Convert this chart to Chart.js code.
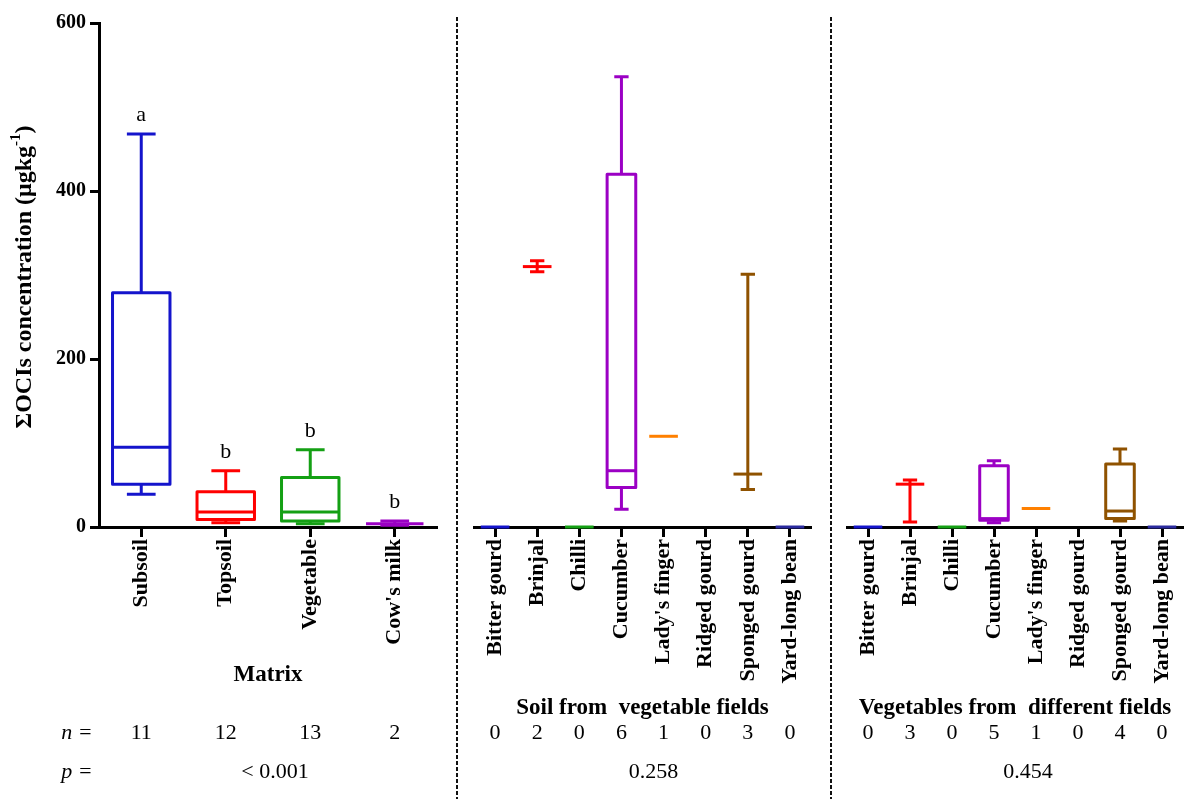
<!DOCTYPE html>
<html>
<head>
<meta charset="utf-8">
<script src="https://cdn.jsdelivr.net/npm/chart.js@4/dist/chart.umd.min.js"></script>
<style>
  html, body { margin: 0; padding: 0; background: #fff; }
  #wrap { position: relative; width: 1185px; height: 799px; overflow: hidden; background: #fff; }
  #wrap canvas { position: absolute; top: 0; }
</style>
</head>
<body>
<div id="wrap">
  <canvas id="matrixChart" width="456" height="799" style="left:0px"></canvas>
  <canvas id="soilChart" width="374" height="799" style="left:456px"></canvas>
  <canvas id="vegChart" width="355" height="799" style="left:830px"></canvas>
</div>
<script>
const SERIF = "'Liberation Serif', 'Times New Roman', serif";

// y axis
const yTicks = [0, 200, 400, 600];

// Panel 1: matrix
const matrixLabels = ['Subsoil', 'Topsoil', 'Vegetable', "Cow's milk"];
const matrixColors = ['#1414cc', '#ff0000', '#14a014', '#9b00c4'];
const matrixMin    = [39, 5, 4, 2];
const matrixQ1     = [51, 9, 7, 4];
const matrixMedian = [95, 18, 18, 4];
const matrixQ3     = [279, 42, 59, 4];
const matrixMax    = [468, 67, 92, 7];
const matrixN      = [11, 12, 13, 2];
const matrixLetters = ['a', 'b', 'b', 'b'];
const matrixP = '< 0.001';

// Panels 2 and 3 share the crop categories
const cropLabels = ['Bitter gourd', 'Brinjal', 'Chilli', 'Cucumber', "Lady's finger", 'Ridged gourd', 'Sponged gourd', 'Yard-long bean'];
const cropColors = ['#1414cc', '#ff0000', '#14a014', '#9b00c4', '#ff8000', '#000000', '#8f5200', '#2a2a9e'];

// Panel 2: soil from vegetable fields
const soilMin    = [0, 304, 0, 21, 108, null, 44.5, 0];
const soilQ1     = [0, 310, 0, 47, 108, null, 63, 0];
const soilMedian = [0, 310, 0, 67, 108, null, 63, 0];
const soilQ3     = [0, 310, 0, 420, 108, null, 63, 0];
const soilMax    = [0, 317, 0, 536, 108, null, 301, 0];
const soilN      = [0, 2, 0, 6, 1, 0, 3, 0];
const soilP = '0.258';

// Panel 3: vegetables from different fields
const vegMin    = [0, 6, 0, 5, 22, null, 7, 0];
const vegQ1     = [0, 51, 0, 8, 22, null, 10, 0];
const vegMedian = [0, 51, 0, 10, 22, null, 19, 0];
const vegQ3     = [0, 51, 0, 73, 22, null, 75, 0];
const vegMax    = [0, 56, 0, 79, 22, null, 93, 0];
const vegN      = [0, 3, 0, 5, 1, 0, 4, 0];
const vegP = '0.454';

Chart.defaults.color = '#000';
Chart.defaults.font.family = SERIF;

const X_AXIS_HEIGHT = 272;

// Box-and-whisker drawing on top of the axes
function boxPlugin(panel) {
  return {
    id: 'boxes',
    afterDatasetsDraw(chart) {
      const { ctx, scales: { x, y } } = chart;
      const step = x.getPixelForValue(1) - x.getPixelForValue(0);
      const hw = step * 0.34;
      ctx.save();
      ctx.lineWidth = 3;
      ctx.lineJoin = 'round';
      panel.labels.forEach((_, i) => {
        if (panel.median[i] == null) return;
        const c = x.getPixelForValue(i);
        const Y = v => y.getPixelForValue(v);
        ctx.strokeStyle = panel.colors[i];
        ctx.beginPath();
        if (panel.max[i] > panel.q3[i]) {
          ctx.moveTo(c, Y(panel.q3[i])); ctx.lineTo(c, Y(panel.max[i]));
          ctx.moveTo(c - hw / 2, Y(panel.max[i])); ctx.lineTo(c + hw / 2, Y(panel.max[i]));
        }
        if (panel.min[i] < panel.q1[i]) {
          ctx.moveTo(c, Y(panel.q1[i])); ctx.lineTo(c, Y(panel.min[i]));
          ctx.moveTo(c - hw / 2, Y(panel.min[i])); ctx.lineTo(c + hw / 2, Y(panel.min[i]));
        }
        ctx.stroke();
        if (panel.q3[i] > panel.q1[i]) {
          ctx.strokeRect(c - hw, Y(panel.q3[i]), 2 * hw, Y(panel.q1[i]) - Y(panel.q3[i]));
        }
        ctx.beginPath();
        ctx.moveTo(c - hw, Y(panel.median[i])); ctx.lineTo(c + hw, Y(panel.median[i]));
        ctx.stroke();
      });
      ctx.restore();
    }
  };
}

// Axis title, sample sizes, p value and group letters
function textPlugin(panel) {
  return {
    id: 'panelText',
    afterDraw(chart) {
      const { ctx, chartArea, scales: { x, y } } = chart;
      const b = chartArea.bottom;
      const mid = (chartArea.left + chartArea.right) / 2;
      ctx.save();
      ctx.fillStyle = '#000';
      ctx.textBaseline = 'middle';
      ctx.textAlign = 'center';

      ctx.font = 'bold 23px ' + SERIF;
      ctx.fillText(panel.title, mid, b + panel.titleDy);

      ctx.font = '22px ' + SERIF;
      panel.n.forEach((n, i) => ctx.fillText(String(n), x.getPixelForValue(i), b + 206));
      ctx.fillText(panel.p, mid + panel.pDx, b + 245);

      if (panel.letters) {
        ctx.font = '22px ' + SERIF;
        panel.letters.forEach((t, i) => ctx.fillText(t, x.getPixelForValue(i), y.getPixelForValue(panel.max[i]) - 19));
      }

      if (panel.rowNames) {
        ctx.font = 'italic 22px ' + SERIF;
        ctx.fillText('n =', 77, b + 206);
        ctx.fillText('p =', 77, b + 245);

        // rotated y-axis title with superscript
        const cy = (chartArea.top + chartArea.bottom) / 2 + 2;
        ctx.translate(25, cy);
        ctx.rotate(-Math.PI / 2);
        const main = '\u03A3OCIs concentration (\u03BCgkg';
        const sup = '-1';
        const close = ')';
        ctx.font = 'bold 24px ' + SERIF;
        const wMain = ctx.measureText(main).width;
        const wClose = ctx.measureText(close).width;
        ctx.font = 'bold 15px ' + SERIF;
        const wSup = ctx.measureText(sup).width;
        const total = wMain + wSup + wClose;
        let px = -total / 2;
        ctx.textAlign = 'left';
        ctx.font = 'bold 24px ' + SERIF;
        ctx.fillText(main, px, 0);
        px += wMain;
        ctx.font = 'bold 15px ' + SERIF;
        ctx.fillText(sup, px, -9);
        px += wSup;
        ctx.font = 'bold 24px ' + SERIF;
        ctx.fillText(close, px, 0);
      }
      ctx.restore();
    }
  };
}

// Dashed separator at the left edge of a panel
const separatorPlugin = {
  id: 'separator',
  afterDraw(chart) {
    const ctx = chart.ctx;
    ctx.save();
    ctx.strokeStyle = '#111';
    ctx.lineWidth = 2;
    ctx.setLineDash([4, 2]);
    ctx.beginPath();
    ctx.moveTo(1, 17);
    ctx.lineTo(1, chart.height);
    ctx.stroke();
    ctx.restore();
  }
};

function makeChart(id, panel, withYAxis, padding, separator) {
  const plugins = [boxPlugin(panel), textPlugin(panel)];
  if (separator) plugins.push(separatorPlugin);
  return new Chart(document.getElementById(id), {
    type: 'bar',
    data: {
      labels: panel.labels,
      datasets: [{
        data: panel.median,
        backgroundColor: 'rgba(0,0,0,0)',
        borderWidth: 0
      }]
    },
    options: {
      responsive: false,
      animation: false,
      devicePixelRatio: 1,
      layout: { padding },
      plugins: { legend: { display: false }, tooltip: { enabled: false } },
      scales: {
        x: {
          type: 'category',
          offset: true,
          grid: {
            display: true, drawOnChartArea: false, drawTicks: true,
            tickLength: 10, tickWidth: 3, tickColor: '#000', offset: false
          },
          border: { display: true, color: '#000', width: 3 },
          ticks: {
            autoSkip: false, minRotation: 90, maxRotation: 90, padding: 2,
            color: '#000', font: { family: SERIF, size: 22, weight: 'bold' }
          },
          afterFit(s) { s.height = X_AXIS_HEIGHT; s.paddingLeft = 0; s.paddingRight = 0; }
        },
        y: {
          display: withYAxis,
          min: 0, max: 600,
          afterBuildTicks(s) { s.ticks = yTicks.map(v => ({ value: v })); },
          grid: {
            display: true, drawOnChartArea: false, drawTicks: true,
            tickLength: 9, tickWidth: 3, tickColor: '#000'
          },
          border: { display: true, color: '#000', width: 3 },
          ticks: { padding: 4, color: '#000', font: { family: SERIF, size: 20, weight: 'bold' } },
          afterFit(s) {
            s.width = withYAxis ? 99 : 0;
            s.paddingTop = 0; s.paddingBottom = 0;
          }
        }
      }
    },
    plugins
  });
}

makeChart('matrixChart', {
  labels: matrixLabels, colors: matrixColors,
  min: matrixMin, q1: matrixQ1, median: matrixMedian, q3: matrixQ3, max: matrixMax,
  n: matrixN, p: matrixP, pDx: 7, letters: matrixLetters,
  title: 'Matrix', titleDy: 148, rowNames: true
}, true, { top: 23, left: 0, right: 19, bottom: 0 }, false);

makeChart('soilChart', {
  labels: cropLabels, colors: cropColors,
  min: soilMin, q1: soilQ1, median: soilMedian, q3: soilQ3, max: soilMax,
  n: soilN, p: soilP, pDx: 11,
  title: 'Soil from  vegetable fields', titleDy: 181
}, false, { top: 23, left: 18, right: 19, bottom: 0 }, true);

makeChart('vegChart', {
  labels: cropLabels, colors: cropColors,
  min: vegMin, q1: vegQ1, median: vegMedian, q3: vegQ3, max: vegMax,
  n: vegN, p: vegP, pDx: 13,
  title: 'Vegetables from  different fields', titleDy: 181
}, false, { top: 23, left: 17, right: 2, bottom: 0 }, true);
</script>
</body>
</html>
